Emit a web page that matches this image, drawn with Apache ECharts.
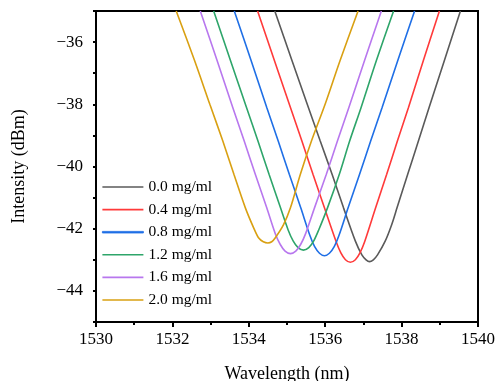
<!DOCTYPE html>
<html>
<head>
<meta charset="utf-8">
<script src="https://cdn.jsdelivr.net/npm/echarts@6/dist/echarts.min.js"></script>
<style>html,body{margin:0;padding:0;background:#fff}#c{width:497px;height:381px}</style>
</head>
<body>
<div id="c"></div>
<script>
const seriesNames = ['0.0 mg/ml', '0.4 mg/ml', '0.8 mg/ml', '1.2 mg/ml', '1.6 mg/ml', '2.0 mg/ml'];
const seriesColors = ['#5a5a5a', '#ff3a3a', '#1f6fe6', '#2ea56a', '#b877ee', '#d9a012'];

const curve00 = [[1534.68,-35],[1535.13,-36.59],[1535.56,-38.1],[1535.87,-39.18],[1536.18,-40.25],[1536.48,-41.33],[1536.79,-42.40],[1536.96,-42.84],[1537.07,-43.00],[1537.16,-43.06],[1537.26,-43.00],[1537.37,-42.84],[1537.57,-42.40],[1537.74,-41.87],[1537.88,-41.33],[1538.16,-40.25],[1538.44,-39.18],[1538.72,-38.1],[1539.12,-36.59],[1539.54,-35]];
const curve04 = [[1534.23,-35],[1534.67,-36.59],[1535.09,-38.1],[1535.39,-39.18],[1535.68,-40.25],[1535.98,-41.33],[1536.29,-42.43],[1536.41,-42.78],[1536.53,-43.00],[1536.66,-43.08],[1536.79,-43.00],[1536.91,-42.78],[1537.03,-42.43],[1537.32,-41.33],[1537.61,-40.25],[1537.89,-39.18],[1538.18,-38.1],[1538.57,-36.59],[1538.99,-35]];
const curve08 = [[1533.62,-35],[1534.06,-36.59],[1534.47,-38.1],[1534.77,-39.18],[1535.06,-40.25],[1535.36,-41.33],[1535.60,-42.22],[1535.72,-42.57],[1535.85,-42.79],[1535.98,-42.87],[1536.11,-42.79],[1536.24,-42.57],[1536.36,-42.22],[1536.60,-41.33],[1536.90,-40.25],[1537.19,-39.18],[1537.49,-38.1],[1537.90,-36.59],[1538.34,-35]];
const curve12 = [[1533.08,-35],[1533.52,-36.59],[1533.94,-38.1],[1534.24,-39.18],[1534.53,-40.25],[1534.83,-41.33],[1535.03,-42.04],[1535.16,-42.39],[1535.29,-42.61],[1535.43,-42.69],[1535.57,-42.61],[1535.70,-42.39],[1535.83,-42.04],[1536.06,-41.33],[1536.37,-40.25],[1536.64,-39.18],[1536.94,-38.1],[1537.34,-36.59],[1537.79,-35]];
const curve16 = [[1532.73,-35],[1533.17,-36.59],[1533.58,-38.1],[1533.88,-39.18],[1534.17,-40.25],[1534.47,-41.33],[1534.69,-42.15],[1534.82,-42.50],[1534.95,-42.72],[1535.09,-42.80],[1535.23,-42.72],[1535.36,-42.50],[1535.49,-42.15],[1535.72,-41.33],[1536.03,-40.25],[1536.32,-39.18],[1536.62,-38.1],[1537.03,-36.59],[1537.47,-35]];
const curve20 = [[1532.10,-35],[1532.58,-36.59],[1532.98,-38.0],[1533.32,-39.18],[1533.61,-40.25],[1533.91,-41.33],[1534.13,-41.98],[1534.26,-42.30],[1534.38,-42.42],[1534.50,-42.46],[1534.60,-42.42],[1534.69,-42.30],[1534.91,-41.87],[1535.09,-41.33],[1535.35,-40.25],[1535.64,-39.18],[1536.00,-37.99],[1536.39,-36.59],[1536.86,-35]];

const curves = [curve00, curve04, curve08, curve12, curve16, curve20];
const xRange = {min: 1530, max: 1540};
const yRange = {min: -45, max: -35};

const font = 'Liberation Serif, Times New Roman, serif';
const chart = echarts.init(document.getElementById('c'), null, {renderer: 'canvas'});
chart.setOption({
  animation: false,
  grid: {left: 96, right: 19, top: 11, bottom: 59, show: true, borderColor: '#000', borderWidth: 2,
         containLabel: false, outerBoundsMode: 'none'},
  xAxis: {
    type: 'value', min: xRange.min, max: xRange.max, interval: 2,
    name: 'Wavelength (nm)', nameLocation: 'middle', nameGap: 43,
    nameTextStyle: {fontFamily: font, fontSize: 18, color: '#000'},
    axisLine: {lineStyle: {color: '#000', width: 2}},
    axisTick: {show: true, length: 5, lineStyle: {color: '#000', width: 2}},
    minorTick: {show: true, splitNumber: 2, length: 3, lineStyle: {color: '#000', width: 2}},
    axisLabel: {fontFamily: font, fontSize: 17, color: '#000', margin: 9, formatter: v => String(v)},
    splitLine: {show: false}
  },
  yAxis: {
    type: 'value', min: yRange.min, max: yRange.max, interval: 1,
    name: 'Intensity (dBm)', nameLocation: 'middle', nameGap: 68,
    nameTextStyle: {fontFamily: font, fontSize: 18, color: '#000'},
    axisLine: {lineStyle: {color: '#000', width: 2}},
    axisTick: {show: true, length: 3, lineStyle: {color: '#000', width: 2}},
    axisLabel: {fontFamily: font, fontSize: 17, color: '#000', margin: 13,
      formatter: v => (Math.round(v) % 2 === 0 ? '\u2212' + Math.abs(v) : '')},
    splitLine: {show: false}
  },
  legend: {
    show: true, orient: 'vertical', left: 97, top: 174,
    icon: 'rect', itemWidth: 41, itemHeight: 1.6, itemGap: 6.6,
    textStyle: {fontFamily: font, fontSize: 15.5, color: '#000'},
    data: seriesNames.map((n, i) => (i === 2
      ? {name: n, itemStyle: {borderColor: seriesColors[i], borderWidth: 0.8}}
      : {name: n}))
  },
  series: curves.map((d, i) => ({
    name: seriesNames[i], type: 'line', data: d, smooth: 0.3, symbol: 'none', showSymbol: false,
    lineStyle: {color: seriesColors[i], width: 1.6}, itemStyle: {color: seriesColors[i]}
  }))
});
</script>
</body>
</html>
